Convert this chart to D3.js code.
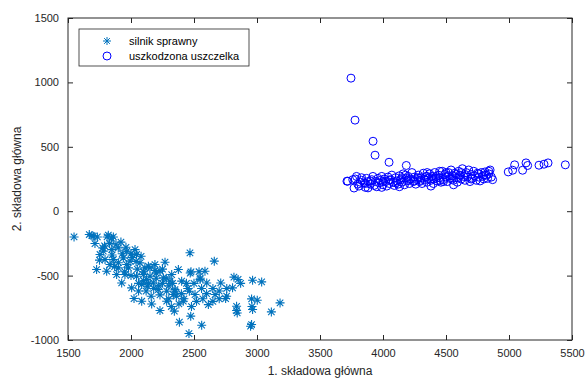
<!DOCTYPE html>
<html>
<head>
<meta charset="utf-8">
<script src="https://cdn.jsdelivr.net/npm/d3@7"></script>
<style>
  body { margin: 0; background: #fff; }
  text { font-family: Arial, "Liberation Sans", sans-serif; }
</style>
</head>
<body>
<div id="chart"></div>
<script>
// ---- data ----
const seriesNames = ["silnik sprawny", "uszkodzona uszczelka"];

const xTicks = [1500, 2000, 2500, 3000, 3500, 4000, 4500, 5000, 5500];
const yTicks = [-1000, -500, 0, 500, 1000, 1500];

// healthy engine: [pc1, pc2]
const healthy = [
  [1548,-200],[1669,-181],[1701,-194],[1733,-200],[1820,-186],[1860,-200],[1714,-251],
  [1775,-285],[1754,-336],[1847,-298],[1899,-285],[1966,-311],[2032,-298],[1727,-453],
  [1807,-466],[1794,-375],[1860,-375],[1939,-362],[1992,-388],[2071,-401],[2138,-427],
  [2190,-414],[2270,-396],[2468,-323],[2661,-388],[1952,-492],[1886,-492],[2044,-505],
  [2098,-492],[2151,-505],[2085,-569],[1926,-557],[2005,-595],[2177,-557],[2217,-608],
  [2283,-621],[2349,-608],[2376,-453],[2402,-543],[2476,-471],[2587,-466],[2548,-530],
  [2601,-557],[2712,-557],[2817,-512],[2806,-595],[2965,-536],[3037,-549],[3183,-712],
  [3114,-782],[2965,-763],[2949,-893],[2838,-738],[2843,-790],[2751,-678],[2667,-647],
  [2614,-725],[2508,-647],[2474,-815],[2561,-885],[2460,-950],[2384,-862],[2344,-776],
  [2230,-771],[2164,-720],[2085,-699],[2024,-678],[2283,-699],[2336,-647],[2415,-699],
  [2310,-543],[2257,-518],[2132,-582],[2044,-336],[1966,-414],[1833,-414],[1899,-440],
  [2124,-530],[2230,-466],[2323,-492],[2463,-621],[2759,-660],[2957,-681],[3002,-691],
  [2838,-771],[2957,-880],
  [1880,-260],[1920,-240],[1960,-280],[2000,-330],[1850,-340],[1900,-400],[1980,-440],
  [2050,-450],[2100,-470],[2150,-440],[2200,-480],[2250,-560],[2300,-580],[2350,-620],
  [2400,-640],[2450,-600],[2500,-560],[2550,-520],[2600,-640],[2650,-600],[2700,-620],
  [2100,-540],[2180,-600],[2230,-650],[2300,-680],[2380,-720],[2420,-680],[2480,-740],
  [2520,-700],[2560,-600],[1950,-470],[2000,-500],[2060,-560],[2120,-620],[2160,-660],
  [1830,-250],[1780,-310],[1750,-380],[1870,-430],[2040,-390],[2080,-350],[2250,-450],
  [2280,-520],[2200,-520],[2330,-560],[2700,-680],[2650,-700],[2570,-680],[2760,-600],
  [2850,-530],[2870,-560],[2960,-740],[2470,-480],[2540,-470],
  [1690,-190],[1810,-200],[1845,-210],[1790,-270],[1930,-330],[2010,-360],[2110,-440],
  [2190,-460],[2060,-620],[2140,-560],[2220,-580],[2360,-660],[2440,-560],[2320,-740]
];

// damaged gasket: [pc1, pc2]
const damaged = [
  [3746,1033],[3778,707],[3921,543],[3937,435],[4048,380],[3714,233],[4185,355],
  [3881,181],[3780,250],[3830,260],
  [5447,360],[5310,375],[5278,365],[5238,357],[5135,375],[5148,355],[5108,318],
  [5045,360],[5029,318],[4994,305],
  [3720,233],[3760,245],[3790,270],[3800,210],[3810,195],[3830,240],[3850,220],[3860,185],
  [3870,255],[3880,230],[3900,210],[3910,245],[3920,270],[3930,200],[3940,230],[3950,190],
  [3960,255],[3970,220],[3980,240],[3990,270],[4000,205],[4010,250],[4020,230],[4030,195],
  [4040,265],[4050,215],[4060,245],[4070,280],[4080,225],[4090,200],[4100,260],[4110,235],
  [4120,210],[4130,275],[4140,245],[4150,225],[4160,290],[4170,205],[4180,255],[4190,235],
  [4200,270],[4210,215],[4220,250],[4230,300],[4240,230],[4250,265],[4260,210],[4270,245],
  [4280,280],[4290,230],[4300,260],[4310,215],[4320,295],[4330,245],[4340,270],[4350,225],
  [4360,255],[4370,290],[4380,240],[4390,270],[4400,215],[4410,300],[4420,255],[4430,235],
  [4440,280],[4450,260],[4460,225],[4470,310],[4480,245],[4490,285],[4500,265],[4510,230],
  [4520,300],[4530,255],[4540,320],[4550,275],[4560,240],[4570,295],[4580,260],[4590,225],
  [4600,310],[4610,280],[4620,250],[4630,330],[4640,270],[4650,240],[4660,300],[4670,265],
  [4680,320],[4690,230],[4700,285],[4710,255],[4720,310],[4730,275],[4740,240],[4750,295],
  [4760,265],[4770,235],[4780,300],[4790,270],[4800,250],[4810,305],[4820,280],[4830,255],
  [4840,290],[4850,320],[4860,265],[4870,245],
  [4250,235],[4300,240],[4350,270],[4400,250],[4450,240],[4500,300],[4550,250],[4600,260],
  [4650,285],[4200,240],[4150,260],[4100,220],[4050,240],[4000,230],[3900,235],[3860,215],
  [4450,310],[4520,275],[4580,285],[4700,250],[4350,300],[4280,260],[4180,280],[4420,270],
  [4480,230],[4620,300],[4760,290],[4800,280],[4840,310],[3820,225],[3770,180],[4380,195],
  [4130,190],[3990,185],[4560,205]
];

// ---- layout ----
const W = 585, H = 378;
const margin = { top: 18, right: 13, bottom: 38, left: 68 };
const width = W - margin.left - margin.right;
const height = H - margin.top - margin.bottom;

const axisColor = "#262626";
const starColor = "#0072BD";
const circleColor = "#0000FF";

const svg = d3.select("#chart").append("svg")
  .attr("width", W).attr("height", H);

const g = svg.append("g")
  .attr("transform", "translate(" + margin.left + "," + margin.top + ")");

const x = d3.scaleLinear().domain([1500, 5500]).range([0, width]);
const y = d3.scaleLinear().domain([-1000, 1500]).range([height, 0]);

const fmt = d => String(d);

// star marker: plus + cross, like MATLAB '*'
const starPath = (r) => {
  const d = r * 0.72;
  return `M${-r},0L${r},0M0,${-r}L0,${r}M${-d},${-d}L${d},${d}M${-d},${d}L${d},${-d}`;
};

// ---- points ----
g.append("g").selectAll("path")
  .data(healthy)
  .join("path")
  .attr("transform", d => `translate(${x(d[0])},${y(d[1])})`)
  .attr("d", starPath(4.5))
  .attr("fill", "none")
  .attr("stroke", starColor)
  .attr("stroke-width", 1.1);

g.append("g").selectAll("circle")
  .data(damaged)
  .join("circle")
  .attr("cx", d => x(d[0]))
  .attr("cy", d => y(d[1]))
  .attr("r", 4)
  .attr("fill", "none")
  .attr("stroke", circleColor)
  .attr("stroke-width", 1);

// ---- axes (ticks inward, box on) ----
function styleAxis(sel) {
  sel.select(".domain").remove();
  sel.selectAll("line").attr("stroke", axisColor);
  sel.selectAll("text").attr("fill", axisColor).style("font-size", "11px");
}

g.append("g")
  .attr("transform", "translate(0," + height + ")")
  .call(d3.axisBottom(x).tickValues(xTicks).tickSizeInner(-5).tickSizeOuter(0).tickPadding(9).tickFormat(fmt))
  .call(styleAxis);

g.append("g")
  .call(d3.axisTop(x).tickValues(xTicks).tickSizeInner(-5).tickSizeOuter(0).tickFormat(""))
  .call(styleAxis);

g.append("g")
  .call(d3.axisLeft(y).tickValues(yTicks).tickSizeInner(-5).tickSizeOuter(0).tickPadding(9).tickFormat(fmt))
  .call(styleAxis);

g.append("g")
  .attr("transform", "translate(" + width + ",0)")
  .call(d3.axisRight(y).tickValues(yTicks).tickSizeInner(-5).tickSizeOuter(0).tickFormat(""))
  .call(styleAxis);

g.append("rect")
  .attr("x", 0).attr("y", 0)
  .attr("width", width).attr("height", height)
  .attr("fill", "none")
  .attr("stroke", axisColor)
  .attr("stroke-width", 1);

// axis titles
svg.append("text")
  .attr("x", margin.left + width / 2)
  .attr("y", H - 3)
  .attr("text-anchor", "middle")
  .attr("fill", axisColor)
  .style("font-size", "12px")
  .text("1. składowa główna");

svg.append("text")
  .attr("transform", `translate(${21},${margin.top + height / 2}) rotate(-90)`)
  .attr("text-anchor", "middle")
  .attr("fill", axisColor)
  .style("font-size", "12px")
  .text("2. składowa główna");

// ---- legend ----
const legend = svg.append("g").attr("transform", "translate(79,29)");
legend.append("rect")
  .attr("width", 170).attr("height", 37)
  .attr("fill", "#fff")
  .attr("stroke", axisColor)
  .attr("stroke-width", 0.8);

seriesNames.forEach((name, i) => {
  const row = legend.append("g").attr("transform", `translate(28,${12 + i * 15})`);
  if (i === 0) {
    row.append("path").attr("d", starPath(4)).attr("fill", "none")
      .attr("stroke", starColor).attr("stroke-width", 1);
  } else {
    row.append("circle").attr("r", 4).attr("fill", "none")
      .attr("stroke", circleColor).attr("stroke-width", 1);
  }
  row.append("text")
    .attr("x", 22).attr("y", 4)
    .attr("fill", "#000")
    .style("font-size", "11px")
    .text(name);
});
</script>
</body>
</html>
